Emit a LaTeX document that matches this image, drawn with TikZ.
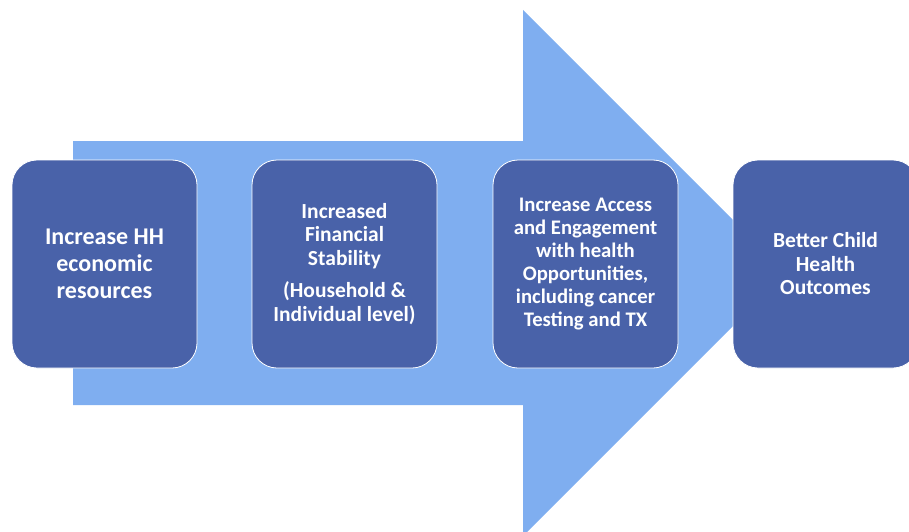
\documentclass[tikz,border=0pt]{standalone}
\usepackage{fontspec}
\setmainfont{Carlito}
\usepackage{tikz}
\usetikzlibrary{positioning}
\definecolor{boxblue}{RGB}{73,98,169}
\definecolor{arrowblue}{RGB}{127,174,240}
\newcommand{\Stagefont}[2]{\fontsize{#1}{#2}\selectfont\bfseries}

\begin{document}
\begin{tikzpicture}[x=1pt, y=-1pt,
    stage/.style={rectangle, rounded corners=25pt, fill=boxblue, draw=white,
      line width=0.8pt, minimum width=185pt, minimum height=208pt,
      inner sep=0pt, outer sep=0pt, text=white, align=center,
      font=\Stagefont{21.5}{23.5}}]

    \useasboundingbox (0,0) rectangle (909,532);

    % the big arrow behind the stages
    \fill[arrowblue] (73,141) -- (523,141) -- (523,10) -- (786,273)
      -- (523,536) -- (523,405) -- (73,405) -- cycle;

    \node[stage, font=\Stagefont{24}{27}] (hh) at (104.5,264) {Increase HH\\economic\\resources};
    \node[stage, right=55pt of hh] (fin) {Increased\\Financial\\Stability\\[9pt](Household \&\\Individual level)};
    \node[stage, right=56pt of fin, font=\Stagefont{20.7}{23}] (acc) {Increase Access\\and Engagement\\with health\\Opportunities,\\including cancer\\Testing and TX};
    \node[stage, right=55pt of acc] (out) {Better Child\\Health\\Outcomes};

\end{tikzpicture}
\end{document}
